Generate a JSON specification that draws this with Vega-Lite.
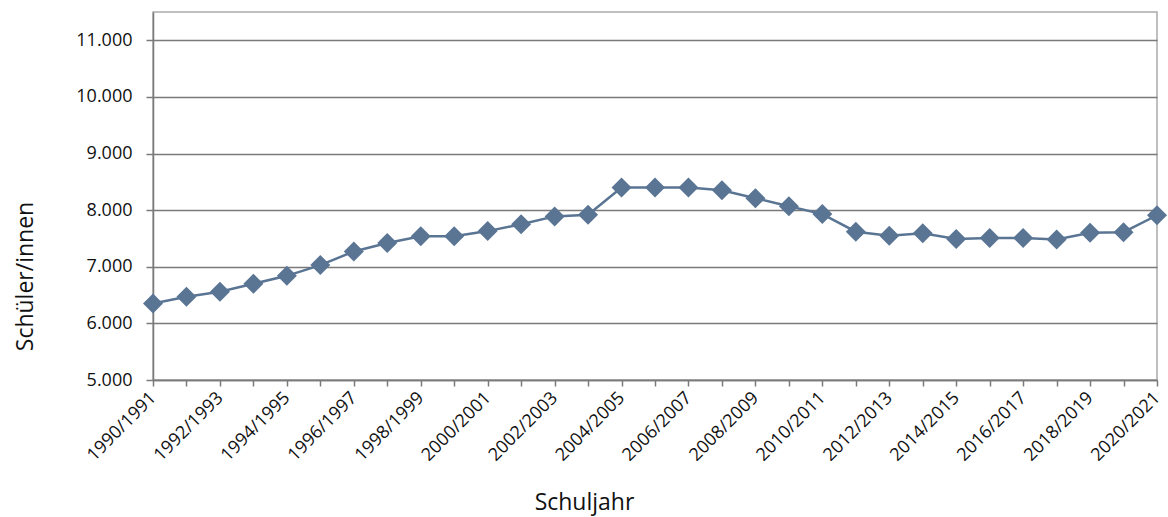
{
  "$schema": "https://vega.github.io/schema/vega-lite/v6.json",
  "autosize": "none",
  "width": 1004,
  "height": 368,
  "padding": {"left": 153, "top": 12, "right": 11, "bottom": 137},
  "background": "white",
  "config": {
    "font": "Open Sans",
    "view": {"stroke": "#ababab", "strokeWidth": 1.5},
    "axis": {
      "domainColor": "#7a7a7a",
      "domainWidth": 1.5,
      "tickColor": "#7a7a7a",
      "tickWidth": 1.5,
      "labelColor": "#111111",
      "titleColor": "#111111",
      "titleFontWeight": "normal",
      "labelFont": "Open Sans",
      "titleFont": "Open Sans"
    }
  },
  "data": {
    "values": [
      {"schuljahr": "1990/1991", "schueler": 6350},
      {"schuljahr": "1991/1992", "schueler": 6470},
      {"schuljahr": "1992/1993", "schueler": 6560},
      {"schuljahr": "1993/1994", "schueler": 6700},
      {"schuljahr": "1994/1995", "schueler": 6840},
      {"schuljahr": "1995/1996", "schueler": 7030},
      {"schuljahr": "1996/1997", "schueler": 7270},
      {"schuljahr": "1997/1998", "schueler": 7420},
      {"schuljahr": "1998/1999", "schueler": 7540},
      {"schuljahr": "1999/2000", "schueler": 7540},
      {"schuljahr": "2000/2001", "schueler": 7630},
      {"schuljahr": "2001/2002", "schueler": 7750},
      {"schuljahr": "2002/2003", "schueler": 7890},
      {"schuljahr": "2003/2004", "schueler": 7920},
      {"schuljahr": "2004/2005", "schueler": 8400},
      {"schuljahr": "2005/2006", "schueler": 8400},
      {"schuljahr": "2006/2007", "schueler": 8400},
      {"schuljahr": "2007/2008", "schueler": 8350},
      {"schuljahr": "2008/2009", "schueler": 8210},
      {"schuljahr": "2009/2010", "schueler": 8070},
      {"schuljahr": "2010/2011", "schueler": 7930},
      {"schuljahr": "2011/2012", "schueler": 7620},
      {"schuljahr": "2012/2013", "schueler": 7550},
      {"schuljahr": "2013/2014", "schueler": 7590},
      {"schuljahr": "2014/2015", "schueler": 7490},
      {"schuljahr": "2015/2016", "schueler": 7510},
      {"schuljahr": "2016/2017", "schueler": 7510},
      {"schuljahr": "2017/2018", "schueler": 7480},
      {"schuljahr": "2018/2019", "schueler": 7600},
      {"schuljahr": "2019/2020", "schueler": 7610},
      {"schuljahr": "2020/2021", "schueler": 7910}
    ]
  },
  "encoding": {
    "x": {
      "field": "schuljahr",
      "type": "ordinal",
      "sort": null,
      "scale": {"type": "point", "padding": 0},
      "axis": {
        "title": "Schuljahr",
        "titleFontSize": 23,
        "titleX": 431,
        "titleY": 129,
        "titleAlign": "center",
        "titleBaseline": "alphabetic",
        "labelExpr": "toNumber(slice(datum.value, 0, 4)) % 2 == 0 ? datum.value : ''",
        "labelAngle": -45,
        "labelAlign": "right",
        "labelBaseline": "middle",
        "labelFontSize": 18,
        "labelPadding": 9,
        "labelOverlap": false,
        "tickSize": 6,
        "grid": false
      }
    },
    "y": {
      "field": "schueler",
      "type": "quantitative",
      "scale": {"domain": [5000, 11500], "nice": false, "zero": false},
      "axis": {
        "title": "Schüler/innen",
        "titleFontSize": 23,
        "titleAngle": -90,
        "titleX": -128,
        "titleY": 264,
        "titleAlign": "center",
        "titleBaseline": "middle",
        "values": [5000, 6000, 7000, 8000, 9000, 10000, 11000],
        "labelExpr": "replace(format(datum.value, ','), ',', '.')",
        "labelFontSize": 18,
        "labelPadding": 14,
        "tickSize": 7,
        "grid": true,
        "gridColor": "#7a7a7a",
        "gridWidth": 1.5
      }
    }
  },
  "layer": [
    {"mark": {"type": "line", "color": "#5a7594", "strokeWidth": 2.5}},
    {"mark": {"type": "point", "shape": "diamond", "size": 400, "filled": true, "opacity": 1, "color": "#5a7594"}}
  ]
}
